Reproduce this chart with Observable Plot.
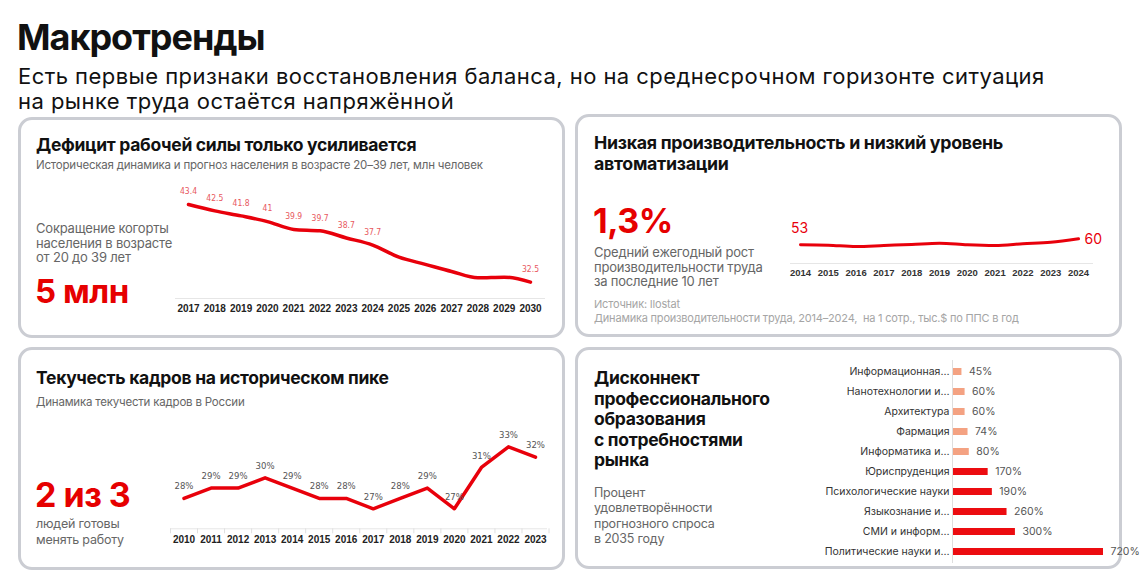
<!DOCTYPE html>
<html><head><meta charset="utf-8">
<script src="https://cdn.jsdelivr.net/npm/d3@7"></script>
<script src="https://cdn.jsdelivr.net/npm/@observablehq/plot@0.6"></script>
<style>
body{margin:0;background:#fff;}
#page{position:relative;width:1142px;height:584px;overflow:hidden;font-family:Inter,Roboto,"Noto Sans",sans-serif;color:#111;}
.t{position:absolute;white-space:nowrap;}
.panel{position:absolute;border:3px solid #cbcdd3;border-radius:14px;box-sizing:border-box;}
.h1{font-size:36px;font-weight:700;letter-spacing:-1px;line-height:40px;}
.sub{font-size:22px;line-height:24px;letter-spacing:0.45px;}
.ptitle{font-size:17.5px;font-weight:700;line-height:20.5px;letter-spacing:-0.3px;}
.psub{font-size:11.5px;line-height:13px;color:#666;letter-spacing:-0.2px;}
.note{font-size:13px;line-height:14.5px;color:#666;letter-spacing:-0.2px;}
.big{font-weight:700;color:#e60000;letter-spacing:-0.5px;}
.src{font-size:11px;line-height:14px;color:#a5a5a5;letter-spacing:-0.2px;}
.plot{position:absolute;}
.plot svg{overflow:visible;}
</style></head>
<body><div id="page">
<div class="t h1" style="left:17px;top:17px;">Макротренды</div>
<div class="t sub" style="left:18px;top:64px;">Есть первые признаки восстановления баланса, но на среднесрочном горизонте ситуация</div>
<div class="t sub" style="left:18px;top:89px;">на рынке труда остаётся напряжённой</div>

<div class="panel" style="left:18px;top:117px;width:547px;height:221px;"></div>
<div class="panel" style="left:575px;top:114px;width:547px;height:223px;"></div>
<div class="panel" style="left:18px;top:347px;width:547px;height:223px;"></div>
<div class="panel" style="left:575px;top:347px;width:547px;height:222px;"></div>

<div class="t ptitle" style="left:36px;top:135px;">Дефицит рабочей силы только усиливается</div>
<div class="t psub" style="left:36px;top:159px;">Историческая динамика и прогноз населения в возрасте 20–39 лет, млн человек</div>
<div class="t note" style="left:36px;top:221px;">Сокращение когорты<br>населения в возрасте<br>от 20 до 39 лет</div>
<div class="t big" style="left:35px;top:274px;font-size:33px;line-height:34px;">5 млн</div>

<div class="t ptitle" style="left:594px;top:133px;font-size:17.8px;">Низкая производительность и низкий уровень<br>автоматизации</div>
<div class="t big" style="left:593px;top:203px;font-size:34px;line-height:36px;">1,3%</div>
<div class="t note" style="left:594px;top:245px;">Средний ежегодный рост<br>производительности труда<br>за последние 10 лет</div>
<div class="t src" style="left:594px;top:297px;">Источник: Ilostat<br>Динамика производительности труда, 2014–2024,&nbsp; на 1 сотр., тыс.$ по ППС в год</div>

<div class="t ptitle" style="left:36px;top:368px;">Текучесть кадров на историческом пике</div>
<div class="t psub" style="left:36px;top:396px;">Динамика текучести кадров в России</div>
<div class="t big" style="left:35px;top:477px;font-size:34px;line-height:36px;">2 из 3</div>
<div class="t note" style="left:36px;top:516px;font-size:12.5px;line-height:15.5px;">людей готовы<br>менять работу</div>

<div class="t ptitle" style="left:594px;top:368px;">Дисконнект<br>профессионального<br>образования<br>с потребностями<br>рынка</div>
<div class="t note" style="left:594px;top:485px;font-size:12.5px;line-height:15.3px;">Процент<br>удовлетворённости<br>прогнозного спроса<br>в 2035 году</div>

<div id="p1" class="plot" style="left:170px;top:180px;"></div>
<div id="p2" class="plot" style="left:780px;top:210px;"></div>
<div id="p3" class="plot" style="left:160px;top:420px;"></div>
<div id="p4" class="plot" style="left:800px;top:355px;"></div>
</div>
<script>
// Panel 1: population aged 20–39, mln
const popYears = [2017,2018,2019,2020,2021,2022,2023,2024,2025,2026,2027,2028,2029,2030];
const popValues = [43.4,42.5,41.8,41,39.9,39.7,38.7,37.7,36.0,35.0,34.0,33.1,33.2,32.5];
const popLabels = ["43.4","42.5","41.8","41","39.9","39.7","38.7","37.7","","","","","","32.5"];

// Panel 2: labour productivity, thousand $ PPP
const prodYears = [2014,2015,2016,2017,2018,2019,2020,2021,2022,2023,2024];
const prodValues = [53,52.5,51,52.2,53.4,54.9,53,52.2,54.2,56,60];

// Panel 3: staff turnover, %
const turnYears = [2010,2011,2012,2013,2014,2015,2016,2017,2018,2019,2020,2021,2022,2023];
const turnValues = [28,29,29,30,29,28,28,27,28,29,27,31,33,32];

// Panel 4: forecast demand satisfaction 2035, %
const fields = ["Информационная…","Нанотехнологии и…","Архитектура","Фармация","Информатика и…","Юриспруденция","Психологические науки","Языкознание и…","СМИ и информ…","Политические науки и…"];
const fieldValues = [45,60,60,74,80,170,190,260,300,720];

const RED = "#e8000b";
const narrow = "'Liberation Sans Narrow','DejaVu Sans Condensed',sans-serif";
const tickFont = "'Liberation Sans',Arial,sans-serif";

// ---- Panel 1
const pop = popYears.map((year,i)=>({year, value:popValues[i], label:popLabels[i]}));
const popY = [30.2, 46.77];
document.getElementById("p1").append(Plot.plot({
  width:380, height:140, marginLeft:5, marginRight:5, marginTop:0, marginBottom:22,
  x:{type:"linear", domain:[popYears[0], popYears[popYears.length-1]], insetLeft:13, insetRight:15},
  y:{domain:popY, axis:null},
  style:{background:"transparent", overflow:"visible"},
  marks:[
    Plot.ruleY([popY[0]], {stroke:"#e6e6e6", strokeWidth:1}),
    Plot.line(pop, {x:"year", y:"value", stroke:RED, strokeWidth:3.5, curve:"monotone-x"}),
    Plot.text(pop.filter(d=>d.label), {x:"year", y:"value", text:"label", dy:-13, fill:"#e8585e", fontSize:8.5, fontFamily:narrow}),
    Plot.axisX({ticks:popYears, tickFormat:"d", tickSize:0, tickPadding:6, fontSize:10, fontWeight:"bold", fill:"#222", fontFamily:tickFont, label:null})
  ]
}));

// ---- Panel 2
const prod = prodYears.map((year,i)=>({year, value:prodValues[i]}));
const prodY = [31.2, 93];
const prodEnds = [prod[0], prod[prod.length-1]];
document.getElementById("p2").append(Plot.plot({
  width:330, height:80, marginLeft:10, marginRight:17, marginTop:0, marginBottom:27,
  x:{type:"linear", domain:[prodYears[0], prodYears[prodYears.length-1]], insetLeft:10, insetRight:15},
  y:{domain:prodY, axis:null},
  style:{background:"transparent", overflow:"visible"},
  marks:[
    Plot.ruleY([prodY[0]], {stroke:"#e6e6e6", strokeWidth:1}),
    Plot.line(prod, {x:"year", y:"value", stroke:RED, strokeWidth:3, curve:"monotone-x"}),
    Plot.text([prodEnds[0]], {x:"year", y:"value", text:d=>String(d.value), dy:-16, dx:-1, fill:RED, fontSize:14, fontFamily:"Inter,Roboto,sans-serif"}),
    Plot.text([prodEnds[1]], {x:"year", y:"value", text:d=>String(d.value), dx:6, dy:1, textAnchor:"start", fill:RED, fontSize:14, fontFamily:"Inter,Roboto,sans-serif"}),
    Plot.axisX({ticks:prodYears, tickFormat:"d", tickSize:0, tickPadding:6, fontSize:9.5, fontWeight:"bold", fill:"#333", fontFamily:tickFont, label:null})
  ]
}));

// ---- Panel 3
const turn = turnYears.map((year,i)=>({year, value:turnValues[i]}));
const turnY = [25.06, 35.55];
const turnBounds = turnYears.map(y=>y-0.5).concat([turnYears[turnYears.length-1]+0.5]);
document.getElementById("p3").append(Plot.plot({
  width:400, height:130, marginLeft:10, marginRight:13, marginTop:0, marginBottom:21.7,
  x:{type:"linear", domain:[turnYears[0], turnYears[turnYears.length-1]], insetLeft:13.5, insetRight:12},
  y:{domain:turnY, axis:null},
  style:{background:"transparent", overflow:"visible"},
  marks:[
    Plot.ruleY([turnY[0]], {stroke:"#e6e6e6", strokeWidth:1}),
    Plot.axisX({ticks:turnBounds, tickFormat:()=>"", tickSize:5, stroke:"#e0e0e0", label:null}),
    Plot.line(turn, {x:"year", y:"value", stroke:RED, strokeWidth:3.5}),
    Plot.text(turn, {x:"year", y:"value", text:d=>d.value+"%", dy:-12, fill:"#555", fontSize:9.5, fontFamily:narrow}),
    Plot.axisX({ticks:turnYears, tickFormat:"d", tickSize:0, tickPadding:7, fontSize:10, fontWeight:"bold", fill:"#222", fontFamily:tickFont, label:null})
  ]
}));

// ---- Panel 4
const fieldData = fields.map((name,i)=>({name, value:fieldValues[i]}));
document.getElementById("p4").append(Plot.plot({
  width:340, height:215, marginLeft:152, marginRight:37, marginTop:5, marginBottom:7,
  x:{domain:[0, 720], axis:null},
  y:{type:"band", domain:fields, range:[3.7, 209.3], paddingInner:0.66, paddingOuter:0.33},
  color:{type:"identity"},
  style:{background:"transparent", overflow:"visible", fontFamily:"Inter,Roboto,sans-serif"},
  marks:[
    Plot.barX(fieldData, {y:"name", x:"value", fill:d=>d.value<100?"#f4a282":"#ec0c10"}),
    Plot.ruleX([0], {stroke:"#dedede"}),
    Plot.text(fieldData, {y:"name", x:"value", text:d=>d.value+"%", dx:7, textAnchor:"start", fontSize:10.5, fill:"#555"}),
    Plot.axisY({tickSize:0, tickPadding:3, fontSize:10.5, fill:"#333", label:null})
  ]
}));
</script>
</body></html>
